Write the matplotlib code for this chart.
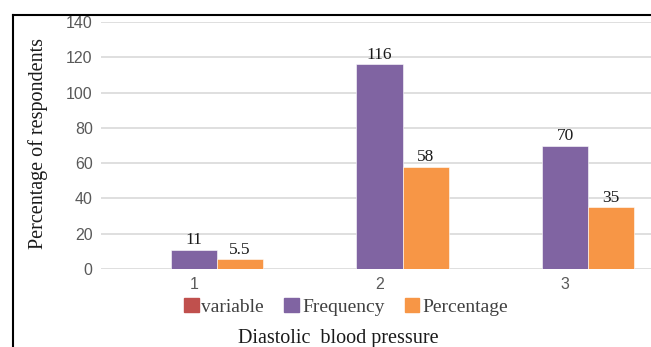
import matplotlib
matplotlib.use("Agg")
import matplotlib.pyplot as plt
import numpy as np
from matplotlib.lines import Line2D

categories = ["1", "2", "3"]
series_names = ["variable", "Frequency", "Percentage"]
variable = [0, 0, 0]
frequency = [11, 116, 70]
percentage = [5.5, 58, 35]
yticks = [0, 20, 40, 60, 80, 100, 120, 140]

colors = ["#C0504D", "#8064A2", "#F79646"]
serif = "Liberation Serif"
sans = "Liberation Sans"

fig = plt.figure(figsize=(6.51, 3.47), dpi=100)
W, H = 651, 347

# plot area in pixels: x from 101 to 658 (runs past the right edge), y from 22 to 269
ax = fig.add_axes([101 / W, 1 - 269 / H, (658 - 101) / W, (269 - 22) / H])

x = np.arange(len(categories))
width = 0.248
values = [variable, frequency, percentage]
for i, (name, vals) in enumerate(zip(series_names, values)):
    bars = ax.bar(x + (i - 1) * width, vals, width, color=colors[i],
                  label=name, zorder=3, edgecolor="white", linewidth=0.4)
    if name != "variable":
        for b, v in zip(bars, vals):
            ax.annotate(f"{v:g}", (b.get_x() + b.get_width() / 2, v),
                        xytext=(0, 1), textcoords="offset points",
                        ha="center", va="bottom", fontsize=12.5,
                        family=serif, color="#1a1a1a")

ax.set_xlim(-0.5, 2.5)
ax.set_ylim(0, 140)
ax.set_yticks(yticks)
ax.set_xticks(x)
ax.set_xticklabels(categories)
ax.grid(axis="y", color="#D9D9D9", linewidth=1.2, zorder=0)
for s in ax.spines.values():
    s.set_visible(False)
ax.tick_params(length=0, labelsize=11.5, labelcolor="#595959")
ax.tick_params(axis="y", pad=6)
ax.tick_params(axis="x", pad=6)
for lbl in ax.get_xticklabels() + ax.get_yticklabels():
    lbl.set_family(sans)

fig.text(38 / W, 1 - 144 / H, "Percentage of respondents", rotation=90,
         ha="center", va="center", fontsize=14.5, family=serif, color="#1a1a1a")
fig.text(338 / W, 1 - 338 / H, "Diastolic  blood pressure",
         ha="center", va="center", fontsize=14.5, family=serif, color="#1a1a1a")

handles = [plt.Rectangle((0, 0), 1, 1, color=c) for c in colors]
fig.legend(handles, series_names, loc="center", bbox_to_anchor=(346 / W, 1 - 307 / H),
           ncol=3, frameon=False, prop={"family": serif, "size": 14},
           handlelength=0.75, handleheight=0.75, handletextpad=0.15,
           columnspacing=1.05, labelcolor="#404040")

# outer frame: left and top edges
fig.add_artist(Line2D([12.5 / W, 12.5 / W], [0, 1 - 14.5 / H],
                      transform=fig.transFigure, color="black", linewidth=1.5))
fig.add_artist(Line2D([12.5 / W, 1], [1 - 14.5 / H, 1 - 14.5 / H],
                      transform=fig.transFigure, color="black", linewidth=1.5))

fig.savefig("out.png", dpi=100)
plt.close(fig)
